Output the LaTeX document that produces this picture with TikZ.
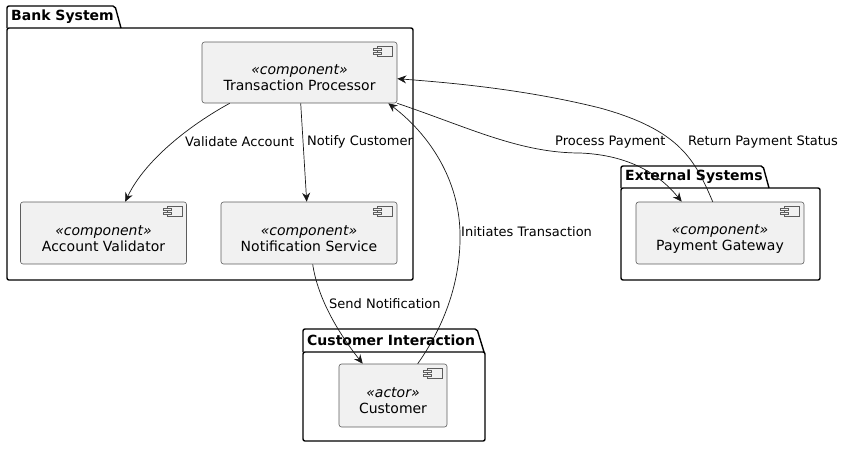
\documentclass[tikz,border=0pt]{standalone}
\usepackage{fontspec}
\setmainfont{DejaVu Sans}
\usetikzlibrary{positioning}
\usetikzlibrary{arrows.meta}
\usetikzlibrary{calc}
\definecolor{boxfill}{HTML}{F1F1F1}
\definecolor{boxline}{HTML}{181818}
\newcommand{\stereo}[1]{\rule{0pt}{21pt}\textit{«#1»}}
\tikzset{
  comp/.style={draw=boxline!70, fill=boxfill, rounded corners=2.5pt, line width=0.6pt,
    align=center, font=\fontsize{14}{16}\selectfont, inner sep=0pt},
  pkg/.style={draw=black, line width=1.4pt, rounded corners=2pt},
  pkgtitle/.style={anchor=west, font=\bfseries\fontsize{14}{16}\selectfont, inner sep=0pt},
  lbl/.style={anchor=west, font=\fontsize{13}{15}\selectfont, inner sep=0pt},
  link/.style={draw=boxline, line width=0.7pt, -{Stealth[length=9pt,width=8pt,inset=3pt]}},
  compicon/.pic={
    \draw[draw=boxline!70, fill=boxfill, line width=0.5pt] (0,0) rectangle (15,10);
    \draw[draw=boxline!70, fill=boxfill, line width=0.5pt] (-4,2) rectangle (4,4);
    \draw[draw=boxline!70, fill=boxfill, line width=0.5pt] (-4,6) rectangle (4,8);
  }
}
\begin{document}
\begin{tikzpicture}[x=1pt, y=-1pt]
  \useasboundingbox (0,0) rectangle (845,448);
  % packages
  \draw[pkg] (7,28) -- (7,6) -- (115,6) -- (121,28);
  \draw[pkg] (7,28) rectangle (413,280);
  \node[pkgtitle] (banktitle) at (11,17) {Bank System};
  \draw[pkg] (621,188) -- (621,166) -- (763,166) -- (769,188);
  \draw[pkg] (621,188) rectangle (820,280);
  \node[pkgtitle] (exttitle) at (625,177) {External Systems};
  \draw[pkg] (303,352) -- (303,329) -- (477,329) -- (484,352);
  \draw[pkg] (303,352) rectangle (485,441);
  \node[pkgtitle] (custtitle) at (307,340) {Customer Interaction};
  % components
  \node[comp, minimum width=195pt, minimum height=61pt] (tp) at (299.5,72.5) {\stereo{component}\\Transaction Processor};
  \node[comp, minimum width=166pt, minimum height=62pt] (av) at (103.5,233) {\stereo{component}\\Account Validator};
  \node[comp, minimum width=176pt, minimum height=62pt] (ns) at (309,233) {\stereo{component}\\Notification Service};
  \node[comp, minimum width=168pt, minimum height=62pt] (pg) at (720,233) {\stereo{component}\\Payment Gateway};
  \node[comp, minimum width=108pt, minimum height=63pt] (cust) at (393,395.5) {\stereo{actor}\\Customer};
  \foreach \c in {tp,av,ns,pg,cust}
    \pic at ($(\c.north east)+(-20,5)$) {compicon};
  % connectors
  \coordinate (tpva) at ($(tp.south west)+(28,0)$);
  \coordinate (avin) at ($(av.north west)+(105,0)$);
  \draw[link] (tpva) .. controls (190,125) and (145,160) .. (avin);
  \draw[link] ($(tp.south west)+(99,0)$) -- ($(ns.north west)+(86,0)$);
  \draw[link] (tp.south east) .. controls (470,128) and (520,153) .. (580,153) .. controls (630,155) and (660,175) .. ($(pg.north west)+(46,0)$);
  \draw[link] ($(pg.north west)+(77,0)$) .. controls (695,160) and (680,130) .. (600,108) .. controls (520,88) and (440,82) .. ($(tp.north east)+(0,37)$);
  \draw[link] ($(ns.south west)+(92,0)$) .. controls (318,300) and (340,335) .. ($(cust.north west)+(24,0)$);
  \draw[link] ($(cust.north west)+(79,0)$) .. controls (445,325) and (461,280) .. (460,233) .. controls (459,180) and (430,135) .. ($(tp.south east)+(-9,0)$);
  % labels
  \node[lbl] (lva) at (185,142) {Validate Account};
  \node[lbl] (lnc) at (307,142) {Notify Customer};
  \node[lbl] (lpp) at (555,142) {Process Payment};
  \node[lbl] (lrp) at (688,142) {Return Payment Status};
  \node[lbl] (lit) at (461,232) {Initiates Transaction};
  \node[lbl] (lsn) at (329,304) {Send Notification};
\end{tikzpicture}
\end{document}
